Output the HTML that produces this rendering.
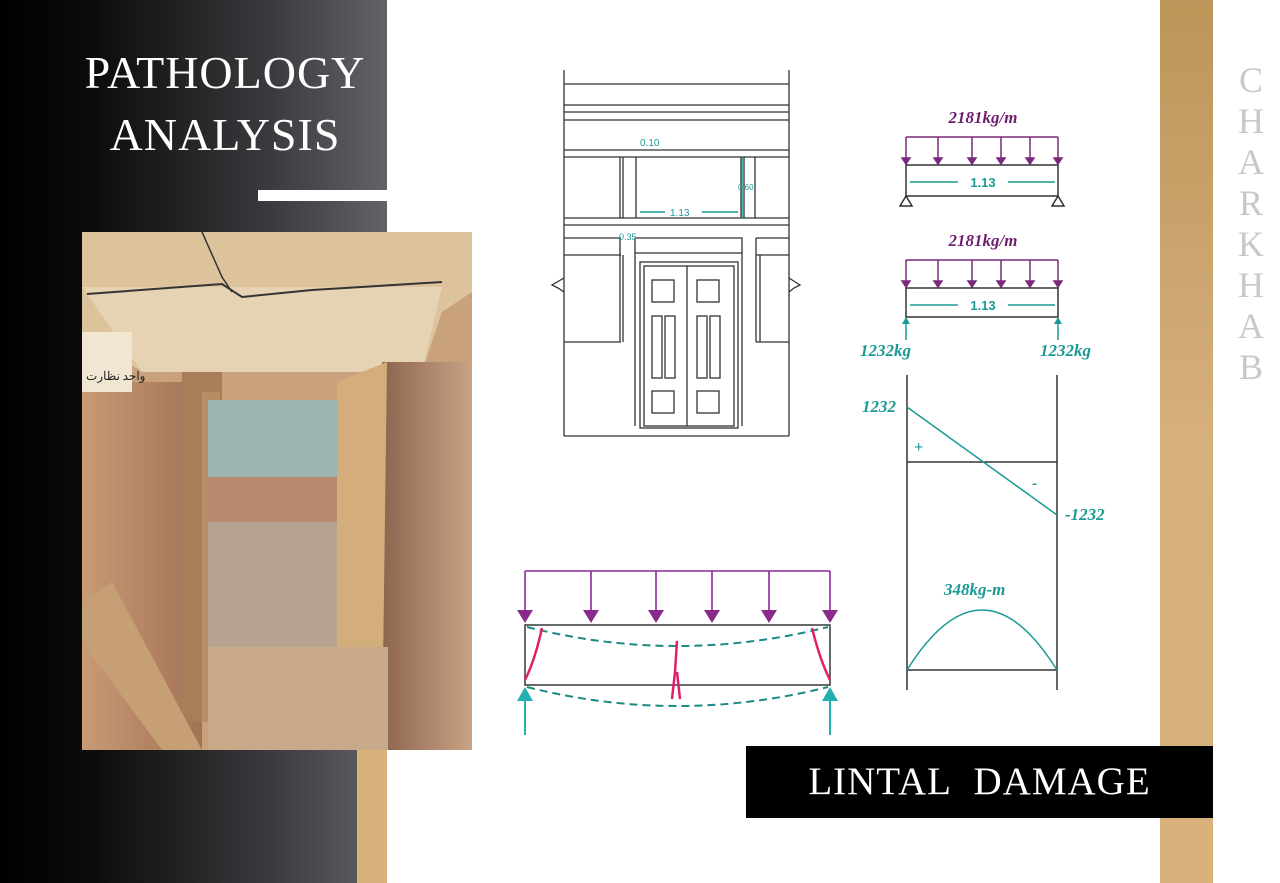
<!DOCTYPE html>
<html><head><meta charset="utf-8"><style>
body{margin:0;width:1280px;height:883px;overflow:hidden;background:#fff;position:relative;font-family:"Liberation Serif",serif}
.a{position:absolute}
</style></head><body>
<div class="a" style="left:0;top:0;width:387px;height:883px;background:linear-gradient(90deg,#000 0%,#0c0c0d 25%,#3a3b3e 70%,#626368 100%)"></div>
<div class="a" style="left:357px;top:750px;width:30px;height:133px;background:#d8b27a"></div>
<div class="a" style="left:258px;top:190px;width:129px;height:11px;background:#fff"></div>
<div class="a" style="left:60px;top:42px;width:330px;text-align:center;color:#fff;font-size:46px;line-height:62px;letter-spacing:1px">PATHOLOGY<br>ANALYSIS</div>
<svg class="a" style="left:82px;top:232px" width="390" height="518" viewBox="0 0 390 518">
<defs>
<linearGradient id="wl" x1="0" x2="1"><stop offset="0" stop-color="#c99a76"/><stop offset="1" stop-color="#a27255"/></linearGradient>
<linearGradient id="wr" x1="0" x2="1"><stop offset="0" stop-color="#8d6550"/><stop offset="1" stop-color="#c9a385"/></linearGradient>
</defs>
<rect width="390" height="518" fill="#c9a27c"/>
<polygon points="0,0 390,0 390,60 360,80 340,140 60,140 0,100" fill="#dcc39c"/>
<polygon points="0,55 360,55 340,140 60,140" fill="#e6d3b3"/>
<polyline points="5,62 140,52 160,65 230,58 360,50" fill="none" stroke="#333" stroke-width="2"/>
<polyline points="120,0 140,45 150,60" fill="none" stroke="#333" stroke-width="1.5"/>
<rect x="0" y="150" width="120" height="368" fill="url(#wl)"/>
<rect x="300" y="130" width="90" height="388" fill="url(#wr)"/>
<rect x="0" y="100" width="50" height="60" fill="#f1e6d2"/>
<text x="4" y="148" font-size="12" fill="#222" font-family="Noto Sans CJK SC,sans-serif">واحد نظارت</text>
<rect x="100" y="140" width="40" height="350" fill="#a87e58"/>
<rect x="120" y="160" width="18" height="330" fill="#b78e64"/>
<rect x="126" y="168" width="130" height="90" fill="#9bb6b3"/>
<rect x="126" y="245" width="130" height="50" fill="#b88b6e"/>
<rect x="126" y="290" width="130" height="125" fill="#b8a292"/>
<polygon points="255,150 305,130 300,515 255,490" fill="#d3ad7b"/>
<rect x="126" y="415" width="180" height="103" fill="#c8aa8a"/>
<polygon points="0,370 30,350 120,518 80,518 0,410" fill="#c79f75"/>
</svg>
<div class="a" style="left:1160px;top:0;width:53px;height:883px;background:linear-gradient(180deg,#bc9559,#d6b07d 50%,#d8b27a)"></div>
<div class="a" style="left:1234px;top:60px;width:34px;text-align:center;color:#c8c8c8;font-size:36px;line-height:41px">C<br>H<br>A<br>R<br>K<br>H<br>A<br>B</div>
<div class="a" style="left:746px;top:746px;width:467px;height:72px;background:#000;color:#fff;font-size:39px;line-height:72px;text-align:center;letter-spacing:1px">LINTAL&nbsp; DAMAGE</div>
<svg class="a" style="left:0;top:0" width="1280" height="883" viewBox="0 0 1280 883" font-family="Liberation Serif,serif">
<g fill="none" stroke="#333" stroke-width="1.3">
<line x1="564" y1="70" x2="564" y2="436"/><line x1="789" y1="70" x2="789" y2="436"/>
<line x1="564" y1="84" x2="789" y2="84"/><line x1="564" y1="105" x2="789" y2="105"/><line x1="564" y1="112" x2="789" y2="112"/><line x1="564" y1="120" x2="789" y2="120"/>
<line x1="564" y1="150" x2="789" y2="150"/><line x1="564" y1="157" x2="789" y2="157"/>
<line x1="564" y1="218" x2="789" y2="218"/><line x1="564" y1="225" x2="789" y2="225"/>
<line x1="564" y1="436" x2="789" y2="436"/>
<path d="M620 157V218M623 157V218M636 157V218M741 157V218M744 157V218M755 157V218"/>
<path d="M564 238H621M564 255H621M620 238V342M623 255V342M564 342H621"/>
<path d="M756 238H789M756 255H789M756 238V342M760 255V342M756 342H789"/>
<path d="M635 238H742V426M635 238V426M635 253H742"/>
<rect x="640" y="262" width="98" height="166"/><rect x="644" y="266" width="90" height="160"/>
<line x1="687" y1="266" x2="687" y2="426"/>
<rect x="652" y="280" width="22" height="22"/><rect x="697" y="280" width="22" height="22"/>
<rect x="652" y="316" width="10" height="62"/><rect x="665" y="316" width="10" height="62"/>
<rect x="697" y="316" width="10" height="62"/><rect x="710" y="316" width="10" height="62"/>
<rect x="652" y="391" width="22" height="22"/><rect x="697" y="391" width="22" height="22"/>
<path d="M564 278L552 285L558 288L564 292"/><path d="M789 278L800 285L794 288L789 292"/>
</g>
<g stroke="#1a9a94" stroke-width="1.5" fill="none">
<line x1="640" y1="212" x2="665" y2="212"/><line x1="702" y1="212" x2="738" y2="212"/>
<line x1="742" y1="158" x2="742" y2="218"/>
</g>
<g fill="#1a9a94" font-family="Liberation Sans,sans-serif" font-size="10">
<text x="640" y="146">0.10</text><text x="670" y="216">1.13</text><text x="738" y="190" font-size="8">0.60</text><text x="619" y="240" font-size="9">0.35</text>
</g>
<g>
<text x="983" y="123" text-anchor="middle" font-size="17" font-style="italic" font-weight="bold" fill="#6e1f6e">2181kg/m</text>
<text x="983" y="246" text-anchor="middle" font-size="17" font-style="italic" font-weight="bold" fill="#6e1f6e">2181kg/m</text>
</g>
<g stroke="#7a2a7a" stroke-width="1.5" fill="#7a2a7a">
<path d="M906 137H1058M906 137V160M938 137V160M972 137V160M1001 137V160M1030 137V160M1058 137V160" fill="none"/>
<path d="M902 158h8l-4 6zM934 158h8l-4 6zM968 158h8l-4 6zM997 158h8l-4 6zM1026 158h8l-4 6zM1054 158h8l-4 6z"/>
<path d="M906 260H1058M906 260V283M938 260V283M972 260V283M1001 260V283M1030 260V283M1058 260V283" fill="none"/>
<path d="M902 281h8l-4 6zM934 281h8l-4 6zM968 281h8l-4 6zM997 281h8l-4 6zM1026 281h8l-4 6zM1054 281h8l-4 6z"/>
</g>
<g stroke="#333" stroke-width="1.5" fill="none">
<path d="M906 165H1058V196H906Z"/><path d="M906 196l-6 10h12zM1058 196l-6 10h12z"/>
<path d="M906 288H1058V317H906Z"/>
<path d="M907 375V690M1057 375V690M907 462H1057M907 670H1057"/>
</g>
<g stroke="#1a9a94" stroke-width="1.5" fill="none">
<line x1="910" y1="182" x2="958" y2="182"/><line x1="1008" y1="182" x2="1055" y2="182"/>
<line x1="910" y1="305" x2="958" y2="305"/><line x1="1008" y1="305" x2="1055" y2="305"/>
<line x1="906" y1="318" x2="906" y2="340"/><line x1="1058" y1="318" x2="1058" y2="340"/>
<line x1="907" y1="407" x2="1057" y2="515"/>
<path d="M907 670Q982 550 1057 670"/>
</g>
<g fill="#1a9a94" font-family="Liberation Sans,sans-serif" font-weight="bold" font-size="13"><text x="983" y="187" text-anchor="middle">1.13</text><text x="983" y="310" text-anchor="middle">1.13</text></g>
<path d="M902 324h8l-4-7zM1054 324h8l-4-7z" fill="#1a9a94"/>
<g fill="#1a9a94" font-style="italic" font-weight="bold" font-size="17">
<text x="860" y="356">1232kg</text><text x="1040" y="356">1232kg</text>
<text x="862" y="412">1232</text><text x="1065" y="520">-1232</text>
<text x="944" y="595">348kg-m</text>
<text x="914" y="452" font-size="16">+</text><text x="1032" y="488" font-size="16">-</text>
</g>
<g stroke="#8a2a9a" stroke-width="1.6" fill="none">
<path d="M525 571H830M525 571V612M591 571V612M656 571V612M712 571V612M769 571V612M830 571V612"/>
</g>
<g fill="#8a2a8a"><path d="M517 610h16l-8 13zM583 610h16l-8 13zM648 610h16l-8 13zM704 610h16l-8 13zM761 610h16l-8 13zM822 610h16l-8 13z"/></g>
<rect x="525" y="625" width="305" height="60" fill="none" stroke="#444" stroke-width="1.6"/>
<g stroke="#1a8a84" stroke-width="2" stroke-dasharray="8 5" fill="none">
<path d="M527 627Q677 665 828 627"/><path d="M527 687Q677 725 828 687"/>
</g>
<g stroke="#e0206a" stroke-width="2.5" fill="none">
<path d="M542 628Q535 660 525 680"/><path d="M812 628Q820 660 830 680"/>
<path d="M677 641L675 672L672 699M677 672L680 699"/>
</g>
<g stroke="#22b0b0" stroke-width="2" fill="#22b0b0">
<line x1="525" y1="700" x2="525" y2="735"/><line x1="830" y1="700" x2="830" y2="735"/>
<path d="M517 701h16l-8-14zM822 701h16l-8-14z" stroke="none"/>
</g>
</svg>
</body></html>
